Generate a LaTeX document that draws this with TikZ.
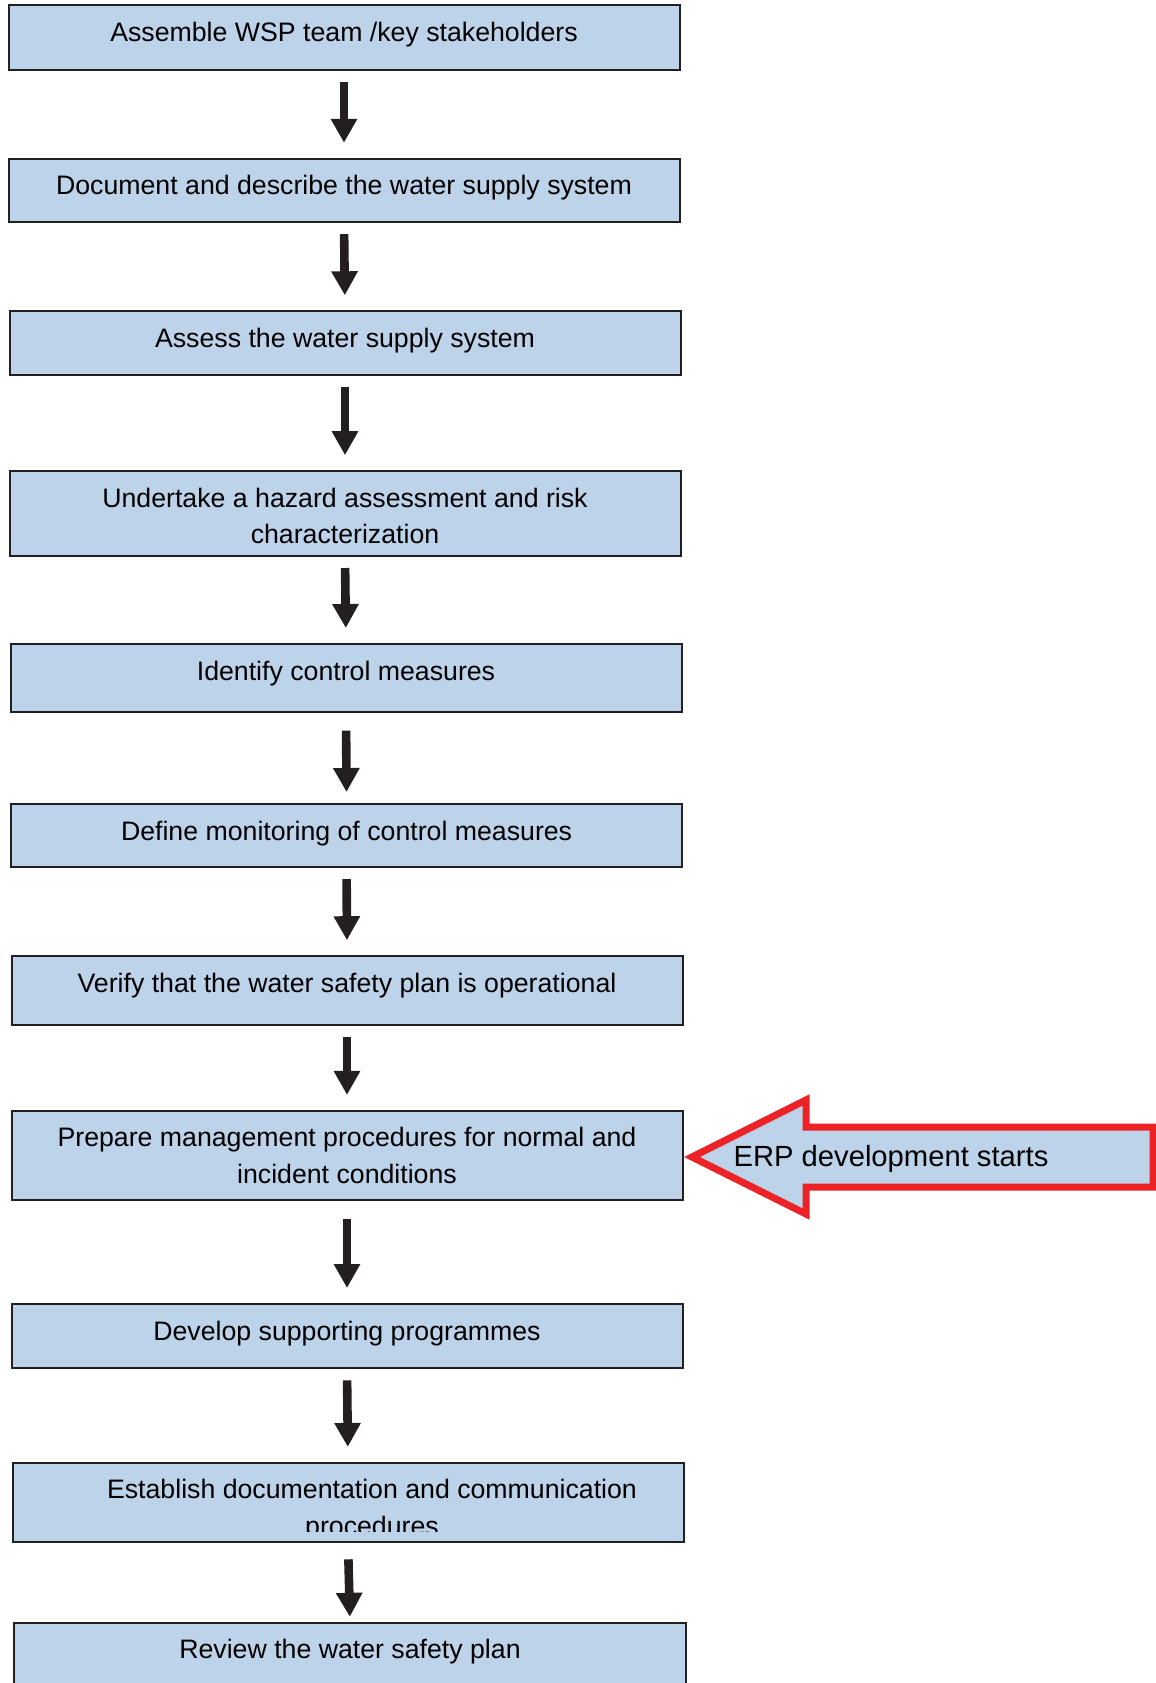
\documentclass[tikz,border=0pt]{standalone}
\usepackage{fontspec}
\setmainfont{Liberation Sans}
\usetikzlibrary{arrows.meta}
\definecolor{boxfill}{RGB}{189,211,233}
\definecolor{ink}{RGB}{35,31,32}
\definecolor{erpred}{RGB}{236,34,38}

\begin{document}
\begin{tikzpicture}[
    x=0.5pt, y=-0.5pt,
    stepbox/.style={rectangle, draw=ink, line width=1pt, fill=boxfill, minimum width=335.5pt, minimum height=32pt, inner sep=0pt},
    steptext/.style={anchor=base, align=center, inner sep=0pt, font=\fontsize{13.35}{18.3}\selectfont},
    flow/.style={draw=ink, line width=4.3pt, -{Triangle[length=12pt, width=12.5pt]}, shorten <=5.5pt, shorten >=7.5pt},
    erpshape/.style={draw=erpred, line width=3.5pt, fill=boxfill, miter limit=10}
]
    \useasboundingbox (0,0) rectangle (1156,1683);

    % Step boxes
    \node[stepbox, minimum height=32.2pt] (s1) at (344,37.6) {};
    \node[stepbox, minimum height=31.7pt] (s2) at (344,190.5) {};
    \node[stepbox, minimum height=31.7pt] (s3) at (345,343) {};
    \node[stepbox, minimum height=42.4pt] (s4) at (345,513.6) {};
    \node[stepbox, minimum height=33.8pt] (s5) at (346,677.8) {};
    \node[stepbox, minimum height=31.6pt] (s6) at (346.6,835.6) {};
    \node[stepbox, minimum height=34.4pt] (s7) at (347,990.6) {};
    \node[stepbox, minimum height=44.5pt] (s8) at (347,1155.4) {};
    \node[stepbox, minimum height=32.2pt] (s9) at (347,1336.2) {};
    \node[stepbox, minimum height=39.7pt] (s10) at (348,1502.6) {};
    \node[stepbox, minimum height=40pt, minimum width=336pt] (s11) at (350,1662.8) {};

    % Step texts, hanging from the top of each box (base = last line)
    \node[steptext] (t1) at ([yshift=-18.5pt]s1.north) {Assemble WSP team /key stakeholders};
    \node[steptext] (t2) at ([yshift=-18.5pt]s2.north) {Document and describe the water supply system};
    \node[steptext] (t3) at ([yshift=-18.5pt]s3.north) {Assess the water supply system};
    \node[steptext] (t4) at ([yshift=-36.8pt]s4.north) {Undertake a hazard assessment and risk\\characterization};
    \node[steptext] (t5) at ([yshift=-18.5pt]s5.north) {Identify control measures};
    \node[steptext] (t6) at ([yshift=-18.5pt]s6.north) {Define monitoring of control measures};
    \node[steptext] (t7) at ([yshift=-18.5pt]s7.north) {Verify that the water safety plan is operational};
    \node[steptext] (t8) at ([yshift=-36.8pt]s8.north) {Prepare management procedures for normal and\\incident conditions};
    \node[steptext] (t9) at ([yshift=-18.5pt]s9.north) {Develop supporting programmes};
    % second line runs out of its frame
    \begin{scope}
        \clip (0,1455) rectangle (1156,1531);
        \node[steptext] (t10) at ([xshift=12pt, yshift=-36.8pt]s10.north) {Establish documentation and communication\\procedures};
    \end{scope}
    \node[steptext] (t11) at ([yshift=-18.5pt]s11.north) {Review the water safety plan};

    % Arrows between steps
    \draw[flow] (s1.south) -- (s2.north);
    \draw[flow] (s2.south) -- (s3.north);
    \draw[flow] (s3.south) -- (s4.north);
    \draw[flow] (s4.south) -- (s5.north);
    \draw[flow, shorten <=9pt, shorten >=5.5pt] (s5.south) -- (s6.north);
    \draw[flow] (s6.south) -- (s7.north);
    \draw[flow] (s7.south) -- (s8.north);
    \draw[flow, shorten <=9pt] (s8.south) -- (s9.north);
    \draw[flow] (s9.south) -- (s10.north);
    \draw[flow, shorten <=8pt, shorten >=2.5pt] (s10.south) -- (s11.north);

    % ERP block arrow pointing at step 8
    \draw[erpshape] (692,1157) -- (806,1100) -- (806,1127) -- (1153,1127) -- (1153,1187)
        -- (806,1187) -- (806,1214) -- cycle;
    \node[anchor=base, inner sep=0pt, font=\fontsize{14.6}{17}\selectfont] (erp) at (891,1166) {ERP development starts};
\end{tikzpicture}
\end{document}
